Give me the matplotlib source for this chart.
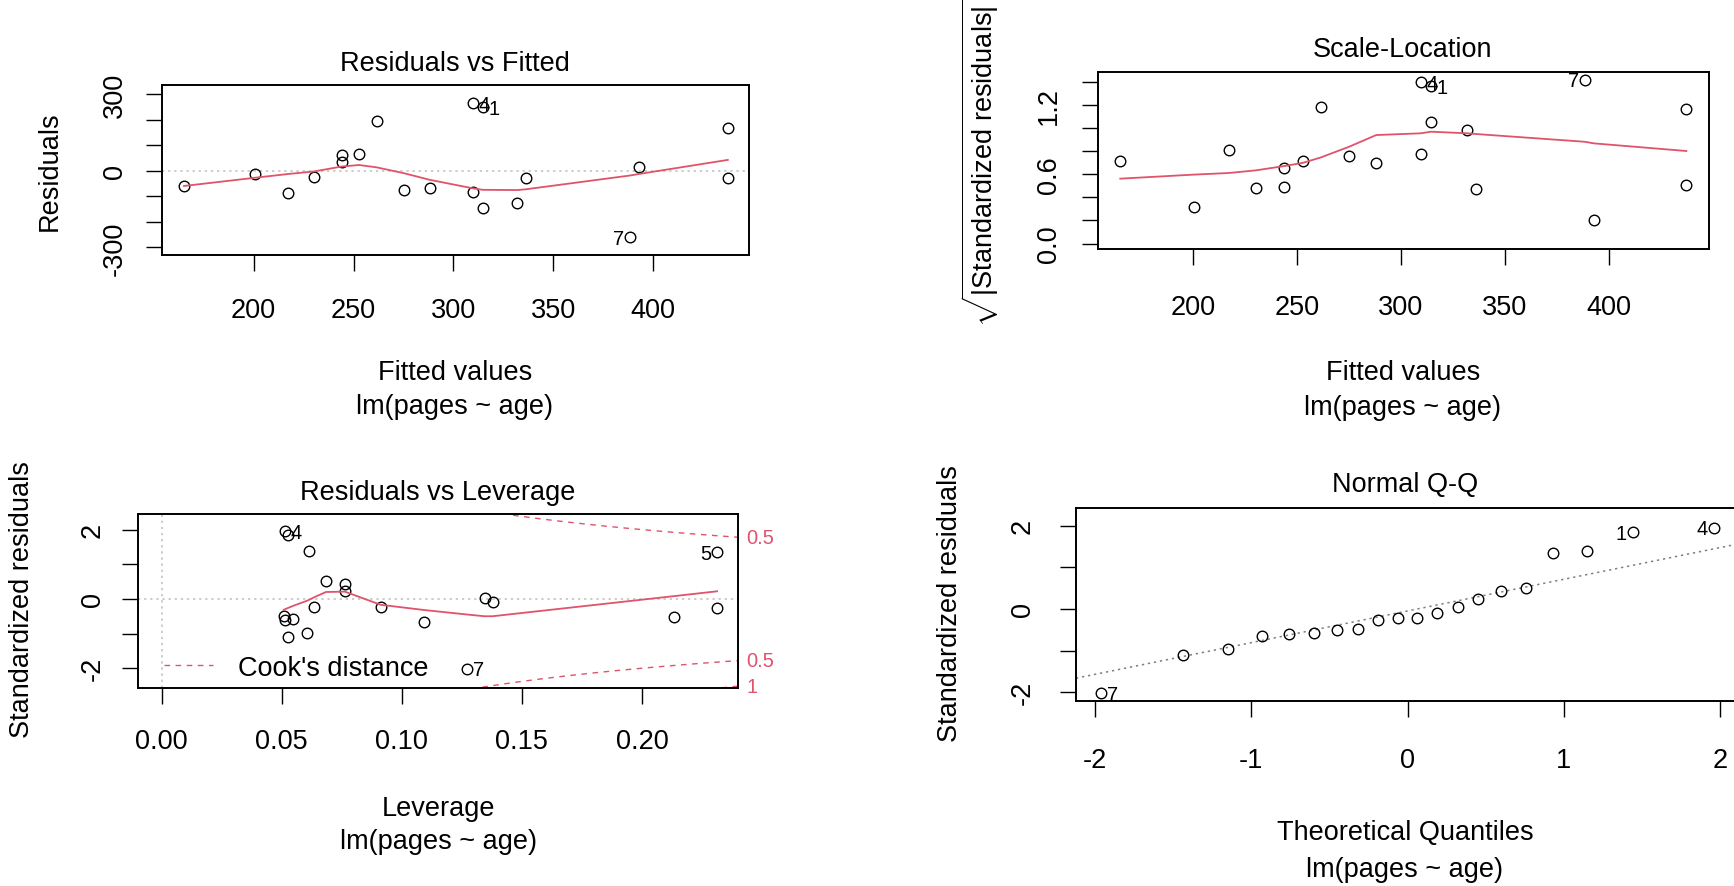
import numpy as np
import matplotlib
matplotlib.use("Agg")
import matplotlib.pyplot as plt
import matplotlib.transforms as mtransforms
from matplotlib.lines import Line2D

# lm(pages ~ age) diagnostics, one value per observation (obs 1..20)
obs_id = list(range(1, 21))
fitted = [314.6, 165.1, 200.5, 309.6, 437.4, 217.4, 388.5, 230.4, 244.0, 244.0,
          252.8, 261.5, 275.2, 288.2, 309.6, 314.6, 332.0, 336.2, 393.0, 437.4]
resid = [249, -60, -14, 266, 168, -86, -261, -26, 61, 32,
         66, 195, -74, -66, -82, -147, -127, -27, 13, -27]
std_resid = [1.85, -0.51, -0.10, 1.95, 1.35, -0.66, -2.01, -0.23, 0.43, 0.24,
             0.51, 1.39, -0.57, -0.48, -0.60, -1.10, -0.97, -0.22, 0.04, -0.26]
leverage = [0.0527, 0.2133, 0.1378, 0.0513, 0.2313, 0.1093, 0.1272, 0.0913, 0.0763, 0.0763,
            0.0685, 0.0616, 0.0548, 0.0508, 0.0513, 0.0527, 0.0607, 0.0636, 0.1345, 0.2313]

# labelled points
ids_resid = [4, 1, 7]
ids_cook = [4, 5, 7]

# red smoother lines
smooth_fit_x = [165.1, 200.5, 217.4, 230.4, 244.0, 252.8, 261.5, 275.2, 288.2, 309.6,
                314.6, 332.0, 336.2, 388.5, 393.0, 437.4]
smooth_rvf_y = [-60, -28, -13, -3, 16, 22, 13, -10, -36, -69, -75, -76, -73, -19, -13, 42]
smooth_sl_y = [0.561, 0.596, 0.61, 0.633, 0.67, 0.697, 0.744, 0.837, 0.938, 0.953,
               0.967, 0.953, 0.947, 0.88, 0.866, 0.80]
smooth_lev_x = [0.0508, 0.0513, 0.0527, 0.0548, 0.0607, 0.0616, 0.0636, 0.0685, 0.0763,
                0.0913, 0.1093, 0.1272, 0.1345, 0.1378, 0.2133, 0.2313]
smooth_lev_y = [-0.32, -0.30, -0.26, -0.20, -0.05, -0.02, 0.05, 0.20, 0.21,
                -0.17, -0.32, -0.45, -0.50, -0.50, 0.08, 0.22]

theo_q = [-1.96, -1.44, -1.15, -0.93, -0.76, -0.60, -0.45, -0.32, -0.19, -0.06,
          0.06, 0.19, 0.32, 0.45, 0.60, 0.76, 0.93, 1.15, 1.44, 1.96]
qq_slope = 0.76
qq_intercept = -0.05

cook_levels = [0.5, 1]
n_coef = 2

# ---------------------------------------------------------------------------
W, H, DPI = 1734, 887, 100
PT = 72.0 / DPI
FS = 19.5
RED = "#DF536B"

plt.rcParams["font.family"] = ["Liberation Sans", "DejaVu Sans"]
plt.rcParams["mathtext.fontset"] = "custom"
plt.rcParams["mathtext.rm"] = "Liberation Sans"
plt.rcParams["mathtext.it"] = "Liberation Sans:italic"

fig = plt.figure(figsize=(W / DPI, H / DPI), dpi=DPI)
fig.patch.set_facecolor("white")


def make_ax(x0, y0, x1, y1):
    return fig.add_axes([x0 / W, 1 - y1 / H, (x1 - x0) / W, (y1 - y0) / H])


def ftext(x, y, s, **kw):
    fig.text(x / W, 1 - y / H, s, ha="center", va="center", fontsize=FS, **kw)


def style(ax, xticks, xlabels, yticks, ylabels, xpad, ypad):
    ax.set_xticks(xticks)
    ax.set_xticklabels(xlabels)
    ax.set_yticks(yticks)
    ax.set_yticklabels(ylabels)
    ax.tick_params(axis="x", length=16 * PT, width=1.0, pad=xpad * PT, labelsize=FS)
    ax.tick_params(axis="y", length=16 * PT, width=1.0, pad=ypad * PT, labelsize=FS)
    for lab in ax.get_yticklabels():
        lab.set_rotation(90)
        lab.set_va("center")
    for sp in ax.spines.values():
        sp.set_linewidth(1.4)


def pts(ax, x, y):
    ax.plot(x, y, "o", mfc="none", mec="black", ms=7.6, mew=1.0, ls="none", zorder=3)


def id_label(ax, x, y, s, right):
    off = 4 if right else -4
    ax.annotate(s, (x, y), xytext=(off, -1), textcoords="offset points",
                ha="left" if right else "right", va="center", fontsize=14.5, zorder=4)


dotted = (0, (1.5, 2.5))

# --- Residuals vs Fitted -----------------------------------------------------
ax1 = make_ax(162, 86, 749, 256)
pts(ax1, fitted, resid)
ax1.axhline(0, color="#BEBEBE", lw=1.1, ls=dotted, zorder=1)
ax1.plot(smooth_fit_x, smooth_rvf_y, color=RED, lw=1.3, zorder=4)
ax1.set_xlim(154.1, 448.0)
ax1.set_ylim(-330, 335)
lab_x = [fitted[i - 1] for i in ids_resid]
mid = (min(lab_x) + max(lab_x)) / 2
for i in ids_resid:
    id_label(ax1, fitted[i - 1], resid[i - 1], str(i), fitted[i - 1] < mid)
style(ax1, [200, 250, 300, 350, 400], ["200", "250", "300", "350", "400"],
      [-300, -200, -100, 0, 100, 200, 300], ["-300", "", "", "0", "", "", "300"], 26, 18)
ftext(455, 64, "Residuals vs Fitted")
ftext(455, 373, "Fitted values")
ftext(455, 407, "lm(pages ~ age)")
ftext(50, 171, "Residuals", rotation=90)

# --- Scale-Location ----------------------------------------------------------
ax2 = make_ax(1098, 73, 1709, 250)
sl = np.sqrt(np.abs(std_resid))
pts(ax2, fitted, sl)
ax2.plot(smooth_fit_x, smooth_sl_y, color=RED, lw=1.3, zorder=4)
ax2.set_xlim(154.4, 448.3)
ax2.set_ylim(-0.047, 1.483)
for i in ids_resid:
    id_label(ax2, fitted[i - 1], sl[i - 1], str(i), fitted[i - 1] < mid)
style(ax2, [200, 250, 300, 350, 400], ["200", "250", "300", "350", "400"],
      [0, 0.2, 0.4, 0.6, 0.8, 1.0, 1.2, 1.4], ["0.0", "", "", "0.6", "", "", "1.2", ""], 29, 20)
ftext(1403, 50, "Scale-Location")
ftext(1403, 373, "Fitted values")
ftext(1403, 408, "lm(pages ~ age)")
ftext(980, 163, r"$\sqrt{|\mathrm{Standardized\ residuals}|}$", rotation=90)

# --- Residuals vs Leverage -----------------------------------------------------
ax3 = make_ax(138, 515, 738, 689)
pts(ax3, leverage, std_resid)
ax3.axhline(0, color="#BEBEBE", lw=1.1, ls=dotted, zorder=1)
ax3.axvline(0, color="#BEBEBE", lw=1.1, ls=dotted, zorder=1)
ax3.plot(smooth_lev_x, smooth_lev_y, color=RED, lw=1.3, zorder=4)
x_lo, x_hi = -0.0098, 0.240
y_lo, y_hi = -2.57, 2.45
hh = np.linspace(max(leverage) / 100, x_hi, 101)
for lev in cook_levels:
    cl = np.sqrt(lev * n_coef * (1 - hh) / hh)
    ax3.plot(hh, cl, color=RED, lw=1.0, ls=(0, (4, 4)), zorder=2)
    ax3.plot(hh, -cl, color=RED, lw=1.0, ls=(0, (4, 4)), zorder=2)
ax3.set_xlim(x_lo, x_hi)
ax3.set_ylim(y_lo, y_hi)
ymult = np.sqrt(n_coef * (1 - x_hi) / x_hi)
blend = mtransforms.blended_transform_factory(ax3.transAxes, ax3.transData)
for lev in cook_levels:
    for sgn in (1, -1):
        yy = sgn * np.sqrt(lev) * ymult
        if y_lo <= yy <= y_hi:
            ax3.annotate("%g" % lev, (1, yy), xycoords=blend, xytext=(6, 0),
                         textcoords="offset points", ha="left", va="center",
                         fontsize=14.5, color=RED, annotation_clip=False)
lab_x = [leverage[i - 1] for i in ids_cook]
mid3 = (min(lab_x) + max(lab_x)) / 2
for i in ids_cook:
    id_label(ax3, leverage[i - 1], std_resid[i - 1], str(i), leverage[i - 1] < mid3)
ax3.legend(handles=[Line2D([], [], color=RED, lw=1.0, ls=(0, (4, 4)))],
           labels=["Cook's distance"], loc="center left", bbox_to_anchor=(0.043, 0.117),
           frameon=False, fontsize=FS, handlelength=1.8, handletextpad=0.95,
           borderpad=0, borderaxespad=0)
style(ax3, [0, 0.05, 0.10, 0.15, 0.20], ["0.00", "0.05", "0.10", "0.15", "0.20"],
      [-2, -1, 0, 1, 2], ["-2", "", "0", "", "2"], 24, 16)
ftext(438, 493, "Residuals vs Leverage")
ftext(438, 809, "Leverage")
ftext(438, 842, "lm(pages ~ age)")
ftext(22, 600, "Standardized residuals", rotation=90)

# --- Normal Q-Q ---------------------------------------------------------------
ax4 = make_ax(1076, 509, 1739, 702)
order = np.argsort(std_resid)
qq_y = np.array(std_resid)[order]
pts(ax4, theo_q, qq_y)
ax4.set_xlim(-2.1216, 2.1216)
ax4.set_ylim(-2.21, 2.42)
ax4.axline((0, qq_intercept), slope=qq_slope, color="#7F7F7F", lw=1.1, ls=dotted, zorder=1)
for k, j in enumerate(order):
    if obs_id[j] in ids_resid:
        id_label(ax4, theo_q[k], qq_y[k], str(obs_id[j]), theo_q[k] < 0)
style(ax4, [-2, -1, 0, 1, 2], ["-2", "-1", "0", "1", "2"],
      [-2, -1, 0, 1, 2], ["-2", "", "0", "", "2"], 30, 24)
ftext(1405, 485, "Normal Q-Q")
ftext(1405, 833, "Theoretical Quantiles")
ftext(1405, 870, "lm(pages ~ age)")
ftext(950, 604, "Standardized residuals", rotation=90)

fig.savefig("out.png", dpi=DPI, facecolor="white")
